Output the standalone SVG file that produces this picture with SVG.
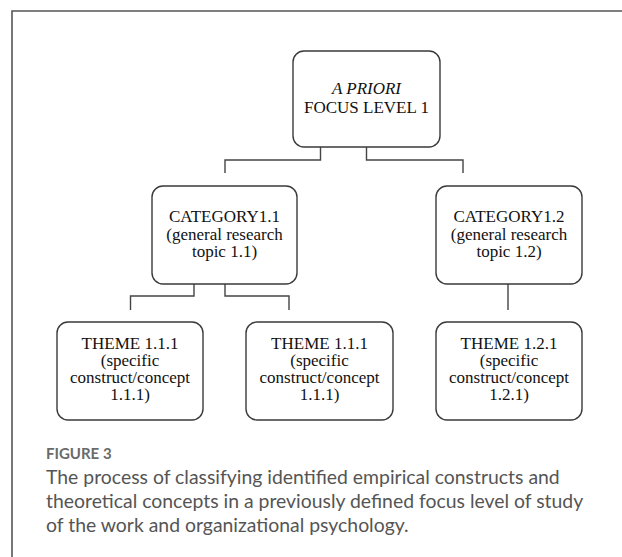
<svg xmlns="http://www.w3.org/2000/svg" width="622" height="557" viewBox="0 0 622 557">
<style>
.box{fill:#fff;stroke:#3a3a3a;stroke-width:1.4}
.t{font-family:"Liberation Serif","Times New Roman",serif;font-size:17px;fill:#111;text-anchor:middle}
.conn{fill:none;stroke:#444;stroke-width:1.4}
.frame{fill:none;stroke:#555;stroke-width:1.6}
.figl{font-family:Lato,"Open Sans",sans-serif;font-size:15px;font-weight:bold;fill:#6a6a6a}
.cap{font-family:Lato,"Open Sans",sans-serif;font-size:19.4px;fill:#555}
</style>
<rect width="622" height="557" fill="#fff"/>
<path class="frame" d="M12,557 V11 H622"/>
<g id="connectors">
<path class="conn" d="M320.5,147 V160 H225 V173"/>
<path class="conn" d="M366.5,147 V160 H463 V173"/>
<path class="conn" d="M194,284 V296 H130.5 V310"/>
<path class="conn" d="M225,284 V296 H289 V310"/>
<path class="conn" d="M508,284 V310"/>
</g>
<g id="focus">
<rect class="box" x="293" y="51" width="147" height="96" rx="11"/>
<text class="t" x="366.5" y="94" font-style="italic">A PRIORI</text>
<text class="t" x="366.5" y="113">FOCUS LEVEL 1</text>
</g>
<g id="cat11">
<rect class="box" x="152" y="186" width="145" height="98" rx="11"/>
<text class="t" x="224.5" y="222">CATEGORY1.1</text>
<text class="t" x="224.5" y="240">(general research</text>
<text class="t" x="224.5" y="257">topic 1.1)</text>
</g>
<g id="cat12">
<rect class="box" x="436" y="186" width="146" height="98" rx="11"/>
<text class="t" x="509" y="222">CATEGORY1.2</text>
<text class="t" x="509" y="240">(general research</text>
<text class="t" x="509" y="257">topic 1.2)</text>
</g>
<g id="theme111a">
<rect class="box" x="57" y="322" width="146" height="98" rx="11"/>
<text class="t" x="130" y="349">THEME 1.1.1</text>
<text class="t" x="130" y="366">(specific</text>
<text class="t" x="130" y="383">construct/concept</text>
<text class="t" x="130" y="400">1.1.1)</text>
</g>
<g id="theme111b">
<rect class="box" x="246" y="322" width="147" height="98" rx="11"/>
<text class="t" x="319.5" y="349">THEME 1.1.1</text>
<text class="t" x="319.5" y="366">(specific</text>
<text class="t" x="319.5" y="383">construct/concept</text>
<text class="t" x="319.5" y="400">1.1.1)</text>
</g>
<g id="theme121">
<rect class="box" x="436" y="322" width="146" height="98" rx="11"/>
<text class="t" x="509" y="349">THEME 1.2.1</text>
<text class="t" x="509" y="366">(specific</text>
<text class="t" x="509" y="383">construct/concept</text>
<text class="t" x="509" y="400">1.2.1)</text>
</g>
<text class="figl" x="46" y="459">FIGURE 3</text>
<text class="cap" x="46" y="484">The process of classifying identified empirical constructs and</text>
<text class="cap" x="46" y="508">theoretical concepts in a previously defined focus level of study</text>
<text class="cap" x="46" y="532">of the work and organizational psychology.</text>
</svg>
